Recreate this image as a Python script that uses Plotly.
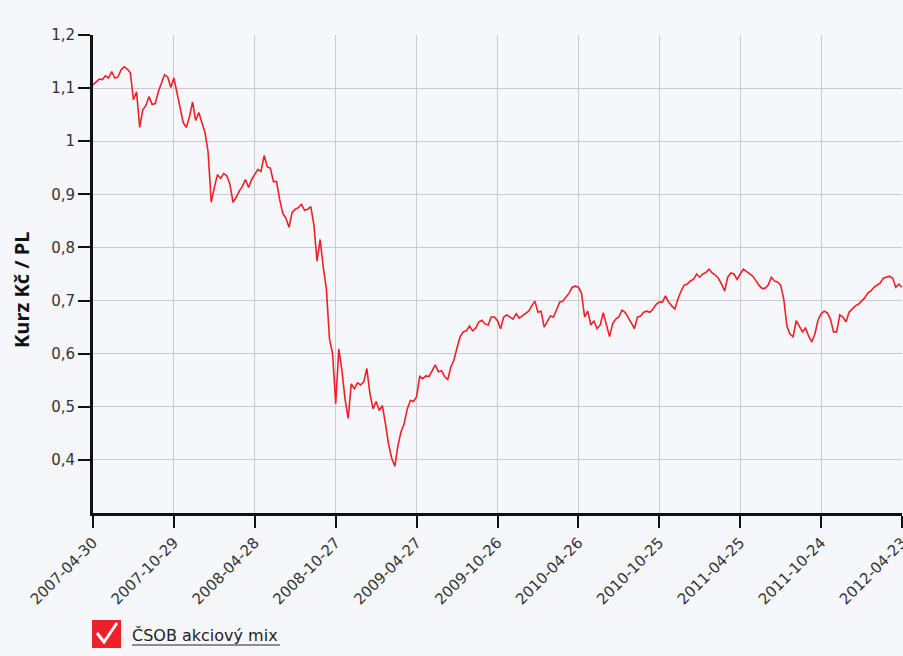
import pandas as pd
import plotly.graph_objects as go

# Weekly fund price (CZK per unit), Mondays from 2007-04-30 to 2012-04-23
start_date = "2007-04-30"
prices = [
    1.106, 1.112, 1.117, 1.116, 1.123, 1.119, 1.131, 1.119, 1.121, 1.134,
    1.140, 1.136, 1.129, 1.078, 1.093, 1.026, 1.059, 1.067, 1.084, 1.069,
    1.071, 1.093, 1.108, 1.125, 1.121, 1.101, 1.119, 1.093, 1.065, 1.035,
    1.026, 1.046, 1.074, 1.039, 1.054, 1.037, 1.016, 0.979, 0.885, 0.913,
    0.937, 0.930, 0.939, 0.935, 0.919, 0.885, 0.894, 0.906, 0.915, 0.928,
    0.913, 0.928, 0.937, 0.947, 0.943, 0.973, 0.952, 0.949, 0.924, 0.924,
    0.890, 0.864, 0.855, 0.838, 0.866, 0.872, 0.875, 0.881, 0.870, 0.872,
    0.877, 0.842, 0.774, 0.815, 0.763, 0.722, 0.628, 0.600, 0.506, 0.609,
    0.568, 0.515, 0.478, 0.543, 0.534, 0.545, 0.541, 0.547, 0.572, 0.525,
    0.496, 0.510, 0.493, 0.502, 0.468, 0.429, 0.403, 0.388, 0.427, 0.453,
    0.468, 0.496, 0.512, 0.510, 0.519, 0.557, 0.553, 0.558, 0.557, 0.568,
    0.579, 0.566, 0.568, 0.557, 0.551, 0.575, 0.588, 0.611, 0.632, 0.641,
    0.643, 0.652, 0.643, 0.648, 0.660, 0.663, 0.656, 0.654, 0.669, 0.669,
    0.662, 0.647, 0.669, 0.673, 0.669, 0.665, 0.675, 0.667, 0.671, 0.675,
    0.680, 0.690, 0.699, 0.678, 0.680, 0.650, 0.662, 0.671, 0.669, 0.684,
    0.697, 0.699, 0.707, 0.714, 0.725, 0.727, 0.725, 0.714, 0.669, 0.680,
    0.654, 0.662, 0.647, 0.654, 0.677, 0.656, 0.632, 0.656, 0.665, 0.669,
    0.682, 0.678, 0.669, 0.658, 0.647, 0.669, 0.671, 0.678, 0.680, 0.678,
    0.684, 0.693, 0.697, 0.697, 0.709, 0.697, 0.690, 0.684, 0.703, 0.718,
    0.729, 0.731, 0.737, 0.740, 0.750, 0.744, 0.750, 0.753, 0.759, 0.752,
    0.748, 0.742, 0.731, 0.718, 0.744, 0.752, 0.750, 0.740, 0.750, 0.759,
    0.755, 0.750, 0.746, 0.738, 0.729, 0.723, 0.723, 0.729, 0.744, 0.737,
    0.735, 0.729, 0.703, 0.652, 0.637, 0.632, 0.662, 0.652, 0.641, 0.648,
    0.633, 0.622, 0.637, 0.663, 0.675, 0.680, 0.677, 0.665, 0.641, 0.641,
    0.673, 0.669, 0.660, 0.678, 0.684, 0.690, 0.693, 0.699, 0.705, 0.714,
    0.718, 0.725, 0.729, 0.733, 0.742, 0.744, 0.746, 0.742, 0.725, 0.731,
    0.725,
]
dates = pd.date_range(start=start_date, periods=len(prices), freq="7D")

tick_dates = [
    "2007-04-30", "2007-10-29", "2008-04-28", "2008-10-27", "2009-04-27",
    "2009-10-26", "2010-04-26", "2010-10-25", "2011-04-25", "2011-10-24",
    "2012-04-23",
]
y_ticks = [0.4, 0.5, 0.6, 0.7, 0.8, 0.9, 1.0, 1.1, 1.2]
series_name = "ČSOB akciový mix"
y_title = "Kurz Kč / PL"

BG = "#f5f7fb"
GRID = "#cacbd0"
LINE_RED = "#ee2128"
TEXT = "#333333"
FONT = "DejaVu Sans, Verdana, sans-serif"

W, H = 903, 656
ML, MR, MT, MB = 93, 1, 35, 143
PW, PH = W - ML - MR, H - MT - MB


def px(x):
    return (x - ML) / PW


def py(y):
    return (H - MB - y) / PH


fig = go.Figure()
fig.add_trace(go.Scatter(
    x=dates, y=prices, mode="lines", name=series_name,
    line=dict(color=LINE_RED, width=1.6), showlegend=False,
))

fig.update_layout(
    width=W, height=H,
    margin=dict(l=ML, r=MR, t=MT, b=MB, pad=0, autoexpand=False),
    paper_bgcolor=BG, plot_bgcolor=BG,
    separators=", ",
    font=dict(family=FONT, size=15, color=TEXT),
    showlegend=False,
)

fig.update_xaxes(
    range=[tick_dates[0], tick_dates[-1]],
    tickvals=tick_dates, ticktext=tick_dates,
    tickangle=-45, ticks="outside", ticklen=12, tickwidth=2, tickcolor="#111",
    ticklabeloverflow="allow", automargin=False,
    showline=True, linecolor="#111", linewidth=3,
    showgrid=True, gridcolor=GRID, gridwidth=1,
    tickfont=dict(family=FONT, size=15, color=TEXT),
    zeroline=False,
)
fig.update_yaxes(
    range=[0.3, 1.2], tickvals=y_ticks, automargin=False,
    ticks="outside", ticklen=12, tickwidth=2, tickcolor="#111",
    showline=True, linecolor="#111", linewidth=3,
    showgrid=True, gridcolor=GRID, gridwidth=1,
    tickfont=dict(family=FONT, size=15, color=TEXT),
    zeroline=False,
)

# Vertical axis title
fig.add_annotation(
    text=f"<b>{y_title}</b>", xref="paper", yref="paper",
    x=px(21), y=py(290), xanchor="center", yanchor="middle",
    textangle=-90, showarrow=False,
    font=dict(family="Open Sans, sans-serif", size=20, color="#111"),
)

# Series toggle: red checkbox with a white tick and underlined name
fig.add_shape(type="rect", xref="paper", yref="paper",
              x0=px(92), x1=px(121), y0=py(648), y1=py(620),
              fillcolor="#ee2128", line=dict(width=0))
fig.add_shape(type="path", xref="paper", yref="paper",
              path=f"M {px(97)},{py(633)} L {px(104)},{py(642)} L {px(117)},{py(623)}",
              line=dict(color="white", width=3))
fig.add_annotation(
    text=series_name, xref="paper", yref="paper",
    x=px(130), y=py(635), xanchor="left", yanchor="middle", showarrow=False,
    font=dict(family=FONT, size=16, color="#222"),
)
fig.add_shape(type="line", xref="paper", yref="paper",
              x0=px(132), x1=px(280), y0=py(645), y1=py(645),
              line=dict(color="#222", width=1))

fig.write_html("out.html")
